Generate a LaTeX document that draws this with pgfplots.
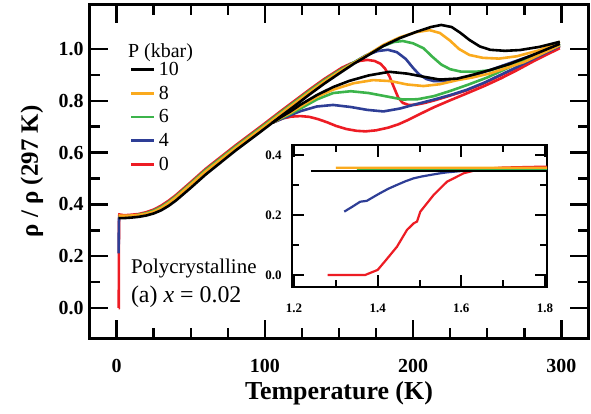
\documentclass[border=0pt]{standalone}
\usepackage{pgfplots}
\pgfplotsset{compat=1.18}
\usepackage{pgfplotstable}
\usepackage{fontspec}
\setmainfont{Liberation Serif}
\definecolor{cred}{RGB}{237,28,36}
\definecolor{cblue}{RGB}{46,62,150}
\definecolor{cgreen}{RGB}{60,180,75}
\definecolor{corange}{RGB}{250,170,30}

\pgfplotstableread{
T r
1.28 0
1.37 0
1.40 0.017
1.42 0.05
1.446 0.094
1.47 0.15
1.486 0.172
1.494 0.178
1.502 0.211
1.534 0.267
1.566 0.311
1.606 0.339
1.646 0.353
1.7 0.358
1.8 0.361
5 0.358
10 0.36
15 0.363
20 0.37
25 0.38
30 0.395
35 0.414
40 0.436
50 0.486
60 0.537
70 0.582
80 0.627
90 0.67
100 0.713
110 0.757
120 0.80
130 0.843
140 0.884
146 0.906
152 0.928
158 0.944
164 0.954
169 0.958
174 0.954
178 0.943
181 0.925
184 0.895
187 0.853
190 0.812
193 0.792
197 0.784
202 0.785
208 0.792
214 0.801
225 0.82
236 0.84
248 0.868
259 0.898
270 0.928
281 0.96
290 0.985
299 1.01
}\redup

\pgfplotstableread{
T r
105 0.715
112 0.732
118 0.739
124 0.741
130 0.738
136 0.729
142 0.717
148 0.703
155 0.691
162 0.684
168 0.682
175 0.686
183 0.696
190 0.709
197 0.727
205 0.75
214 0.775
225 0.802
236 0.828
248 0.857
259 0.886
270 0.918
281 0.952
290 0.978
299 1.003
}\redlow

\pgfplotstableread{
T r
1.32 0.211
1.34 0.228
1.358 0.244
1.374 0.247
1.39 0.26
1.405 0.272
1.425 0.287
1.446 0.30
1.466 0.312
1.486 0.322
1.505 0.328
1.525 0.333
1.546 0.338
1.566 0.342
1.606 0.347
1.7 0.349
1.8 0.35
5 0.352
10 0.355
15 0.359
20 0.365
25 0.375
30 0.389
35 0.408
40 0.43
50 0.48
60 0.531
70 0.576
80 0.621
90 0.664
100 0.707
110 0.751
120 0.794
130 0.837
140 0.878
150 0.915
160 0.948
168 0.975
176 0.992
183 0.997
189 0.988
195 0.962
200 0.927
204 0.902
209 0.884
214 0.876
222 0.876
232 0.885
242 0.9
255 0.925
270 0.955
285 0.985
299 1.015
}\blueup

\pgfplotstableread{
T r
105 0.715
110 0.727
117 0.744
124 0.76
135 0.778
146 0.784
158 0.776
169 0.765
180 0.759
191 0.77
202 0.787
213 0.803
225 0.822
236 0.842
248 0.87
259 0.9
270 0.93
281 0.962
290 0.987
299 1.012
}\bluelow

\pgfplotstableread{
T r
1.35 0.351
1.8 0.352
5 0.353
10 0.356
15 0.36
20 0.366
25 0.376
30 0.39
35 0.409
40 0.431
50 0.481
60 0.532
70 0.577
80 0.622
90 0.665
100 0.708
110 0.752
120 0.795
130 0.838
140 0.879
150 0.916
160 0.948
170 0.98
180 1.012
187 1.027
193 1.031
200 1.022
207 1.003
213 0.97
219 0.94
225 0.922
232 0.913
242 0.912
252 0.918
265 0.94
280 0.97
299 1.02
}\greenup

\pgfplotstableread{
T r
105 0.715
110 0.73
117 0.749
124 0.77
135 0.805
146 0.83
158 0.837
170 0.83
182 0.817
193 0.805
203 0.806
214 0.818
225 0.838
237 0.862
250 0.89
270 0.943
285 0.98
299 1.015
}\greenlow

\pgfplotstableread{
T r
1.30 0.357
1.8 0.357
5 0.356
10 0.357
15 0.359
20 0.364
25 0.372
30 0.386
35 0.405
40 0.427
50 0.477
60 0.527
70 0.572
80 0.617
90 0.66
100 0.703
110 0.747
120 0.79
130 0.833
140 0.874
150 0.912
160 0.946
170 0.98
180 1.016
191 1.045
202 1.065
211 1.073
218 1.062
225 1.032
231 1.0
238 0.977
247 0.966
258 0.963
270 0.972
285 0.995
299 1.028
}\orangeup

\pgfplotstableread{
T r
105 0.715
110 0.732
117 0.753
124 0.778
135 0.815
146 0.843
160 0.868
173 0.88
185 0.876
196 0.863
207 0.857
218 0.864
230 0.88
240 0.89
252 0.906
275 0.95
299 1.015
}\orangelow

\pgfplotstableread{
T r
1.24 0.347
1.8 0.347
5 0.347
10 0.349
15 0.352
20 0.357
25 0.365
30 0.377
35 0.394
40 0.415
50 0.464
60 0.515
70 0.561
80 0.607
90 0.65
100 0.693
110 0.737
120 0.78
130 0.824
140 0.866
150 0.905
160 0.943
170 0.977
180 1.012
191 1.042
202 1.066
212 1.085
219 1.093
226 1.085
232 1.062
238 1.035
245 1.01
252 0.997
262 0.993
272 0.996
285 1.008
299 1.028
}\blackup

\pgfplotstableread{
T r
105 0.715
110 0.734
117 0.758
124 0.785
135 0.822
146 0.853
157 0.877
170 0.898
184 0.912
196 0.905
207 0.893
218 0.882
230 0.886
240 0.9
252 0.919
265 0.942
280 0.975
299 1.02
}\blacklow

\begin{document}
\begin{tikzpicture}
\begin{axis}[
  name=main, at={(0,0)}, anchor=south west,
  width=498bp, height=333bp, scale only axis,
  xmin=-18, xmax=318, ymin=-0.116, ymax=1.17,
  xtick={0,100,200,300}, minor x tick num=3,
  ytick={0,0.2,0.4,0.6,0.8,1.0}, minor y tick num=1,
  tick align=inside, xtick pos=both, ytick pos=both,
  major tick length=18bp, minor tick length=10bp,
  tick style={line width=2.5bp, black},
  axis line style={line width=3bp},
  /pgf/number format/assume math mode=true,
  ticklabel style={font=\fontsize{20}{24}\selectfont\bfseries},
  yticklabel style={/pgf/number format/fixed, /pgf/number format/fixed zerofill, /pgf/number format/precision=1, xshift=-3bp},
  xticklabel style={yshift=-18bp},
  xlabel={Temperature (K)},
  ylabel={ρ / ρ (297 K)},
  xlabel style={font=\fontsize{26}{30}\selectfont\bfseries, at={(axis description cs:0.5,-0.165)}, anchor=center},
  ylabel style={font=\fontsize{25}{30}\selectfont\bfseries, at={(axis description cs:-0.1165,0.5)}, anchor=center},
  legend style={at={(axis description cs:0.074,0.838)}, anchor=north west, draw=none, fill=none,
    font=\fontsize{20}{24}\selectfont, nodes={inner sep=1bp}, row sep=7bp,
    /tikz/every odd column/.append style={column sep=2bp}},
  legend image code/.code={\draw[#1, line width=2.8bp] (0bp,0bp) -- (23bp,0bp);},
  legend cell align=left,
  reverse legend,
  every axis plot/.append style={line width=2.6bp},
]
\addplot[cred] table {\redup}; \addlegendentry{0}
\addplot[cred, forget plot] table {\redlow};
\addplot[cblue] table {\blueup}; \addlegendentry{4}
\addplot[cblue, forget plot] table {\bluelow};
\addplot[cgreen] table {\greenup}; \addlegendentry{6}
\addplot[cgreen, forget plot] table {\greenlow};
\addplot[corange] table {\orangeup}; \addlegendentry{8}
\addplot[corange, forget plot] table {\orangelow};
\addplot[black] table {\blackup}; \addlegendentry{10}
\addplot[black, forget plot] table {\blacklow};
\node[anchor=west, font=\fontsize{20}{24}\selectfont, inner sep=0pt] at (axis description cs:0.0763,0.858) {P (kbar)};
\node[anchor=west, font=\fontsize{21}{24}\selectfont, inner sep=0pt] at (axis description cs:0.082,0.21) {Polycrystalline};
\node[anchor=west, font=\fontsize{24}{28}\selectfont, inner sep=0pt] at (axis description cs:0.082,0.123) {(a) \textit{x} = 0.02};
\end{axis}
\begin{axis}[
  name=inset, at={(main.south west)}, anchor=south west, xshift=202bp, yshift=51bp,
  width=255bp, height=142bp, scale only axis,
  xmin=1.195, xmax=1.805, ymin=-0.04, ymax=0.433,
  xtick={1.2,1.4,1.6,1.8}, minor x tick num=1,
  ytick={0,0.2,0.4}, minor y tick num=1,
  tick align=inside, xtick pos=both, ytick pos=both,
  major tick length=12bp, minor tick length=7bp,
  tick style={line width=2bp, black},
  axis line style={line width=2.5bp},
  axis background/.style={fill=white},
  /pgf/number format/assume math mode=true,
  ticklabel style={font=\fontsize{13}{15}\selectfont\bfseries},
  xticklabel style={/pgf/number format/fixed, /pgf/number format/fixed zerofill, /pgf/number format/precision=1, yshift=-13bp},
  yticklabel style={/pgf/number format/fixed, /pgf/number format/fixed zerofill, /pgf/number format/precision=1, xshift=-7bp},
  every axis plot/.append style={line width=2.2bp, restrict x to domain=1.1:6},
]
\addplot[cred] table {\redup};
\addplot[cblue] table {\blueup};
\addplot[cgreen] table {\greenup};
\addplot[corange] table {\orangeup};
\addplot[black] table {\blackup};
\end{axis}
\pgfresetboundingbox
\path ([xshift=-90bp,yshift=-76bp]main.south west) rectangle ([xshift=3bp,yshift=5bp]main.north east);
\end{tikzpicture}
\end{document}
